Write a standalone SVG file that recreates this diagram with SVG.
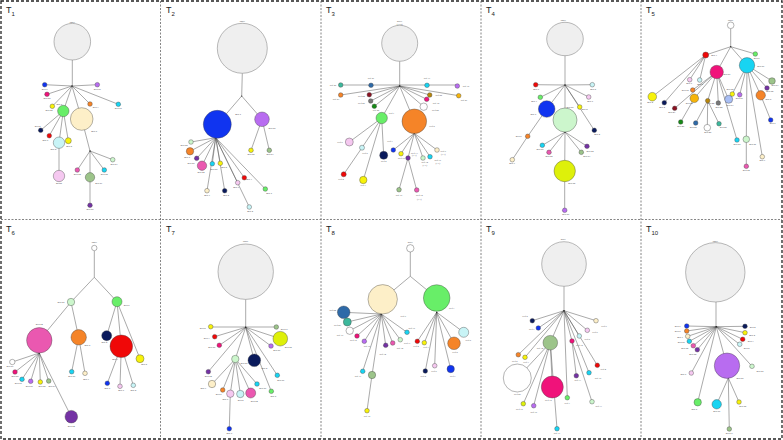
<svg xmlns="http://www.w3.org/2000/svg" width="783" height="440" viewBox="0 0 783 440">
<style>
.bg{fill:#fff}
.frame{fill:none;stroke:#222;stroke-width:1.3;stroke-dasharray:3 2}
.div{fill:none;stroke:#666;stroke-width:0.8;stroke-dasharray:2 1.5}
.t{font-family:"Liberation Sans",Arial,sans-serif;font-size:9px;fill:#222}
.t tspan{font-size:6px}
.e{fill:none;stroke:#555;stroke-width:0.5}
.j{fill:#222}
.n{stroke:#444;stroke-width:0.4}
.l{font-family:"Liberation Sans",Arial,sans-serif;font-size:2.2px;fill:#444;text-anchor:middle}
.s{font-family:"Liberation Serif","Times New Roman",serif;font-size:2.4px;fill:#444;text-anchor:middle}
.rt{fill:#efefef;stroke:#777;stroke-width:0.5}
.bl{fill:#1034f0}.pu{fill:#b86cf0}.mg{fill:#f0127a}.ye{fill:#f7f20a}.gr{fill:#68ee68}
.pe{fill:#fdefc8}.or{fill:#f58428}.cy{fill:#18d4f2}.lc{fill:#c8f4f6}.pl{fill:#f5c8f0}
.nv{fill:#0a1a5c}.rd{fill:#f00808}.sg{fill:#9cc48a}.pd{fill:#7432a4}.pk{fill:#ea58b0}
.lg{fill:#ccf6cc}.yg{fill:#def00a}.tl{fill:#3cb89c}.sb{fill:#2e6aa8}.dr{fill:#8a1222}
.gy{fill:#777}.dg{fill:#168a16}.br{fill:#b8860b}.go{fill:#f6b40a}.lb{fill:#a8bef4}.wh{fill:#fff}
</style>
<rect class="bg" x="0" y="0" width="783" height="440"/>
<g id="panels">
<rect class="frame" x="1" y="1" width="781" height="438"/>
<path class="div" d="M160.5,1V439 M321,1V439 M481,1V439 M641,1V439 M1,219.5H782"/>
<text class="t" x="6" y="13">T<tspan dy="2.5">1</tspan></text>
<text class="t" x="166" y="13">T<tspan dy="2.5">2</tspan></text>
<text class="t" x="326" y="13">T<tspan dy="2.5">3</tspan></text>
<text class="t" x="486" y="13">T<tspan dy="2.5">4</tspan></text>
<text class="t" x="646" y="13">T<tspan dy="2.5">5</tspan></text>
<text class="t" x="6" y="232">T<tspan dy="2.5">6</tspan></text>
<text class="t" x="166" y="232">T<tspan dy="2.5">7</tspan></text>
<text class="t" x="326" y="232">T<tspan dy="2.5">8</tspan></text>
<text class="t" x="486" y="232">T<tspan dy="2.5">9</tspan></text>
<text class="t" x="646" y="232">T<tspan dy="2.5">10</tspan></text>
</g>
<g id="connectors">
<path class="e" d="M72.3,60V86 M72,86L44.7,84.7 M72,86L97.3,84.7 M72,86L47,94.3 M72,86L52.3,106.3 M72,86L63.3,111 M72,86L81.7,119 M72,86L90,104 M72,86L118.3,104.3 M63.3,111L40.7,130.3 M63.3,111L49.3,135.7 M63.3,111L59,142.7 M63.3,111L68.3,140.7 M59,142.7V176 M81.7,119L90,151 M90,151L112.7,159.7 M90,151L77.3,170 M90,151V205.3 M90,151L104.3,170"/>
<path class="e" d="M242.3,73.3L241.7,96 M241.7,96L217.3,124.3 M241.7,96L262,119.3 M262,119.3L251,150.3 M262,119.3L269.3,150.3 M215.7,137.7L191,142 M215.7,137.7L190,151.3 M215.7,137.7L196.7,158.3 M215.7,137.7L202,165.7 M215.7,137.7L212.3,163.7 M215.7,137.7L220.3,163.3 M215.7,137.7L244.3,177.7 M215.7,137.7L237.7,182.7 M215.7,137.7L265.3,189 M215.7,137.7L249.3,207 M215.7,137.7L207,190.7 M215.7,137.7L224.7,190.7"/>
<path class="e" d="M399.7,61.3V86 M340.7,85H457.3 M399.7,86L340.7,95 M399.7,86L369.3,94.7 M399.7,86L370.7,101 M399.7,86L374.3,106.3 M399.7,86L381.7,118 M399.7,86L429.7,95 M399.7,86L458.7,95.7 M399.7,86L426.7,99.3 M399.7,86L423.7,106.7 M399.7,86L414.3,121.3 M381.7,118L349.3,142 M381.7,118L362,147.7 M381.7,118L383.7,155.3 M381.7,118L363.3,180 M362,147.7L343.7,174.3 M414.3,133.3L393.3,150 M414.3,133.3L401,153.7 M414.3,133.3L408,158 M414.3,133.3L423,158 M414.3,133.3L430,156.7 M414.3,133.3L437,150 M408,158L399,189.7 M408,158L416.7,190"/>
<path class="e" d="M565,55.7V85 M565,85L535.7,84.7 M565,85L592.3,84.7 M565,85L540.3,97.3 M565,85L588.7,97 M565,85L546.7,109 M565,85L579.7,107 M565,85L594.3,130.3 M565,85V120 M546.7,109L527.7,136.3 L512.3,159.7 M565,132L542.3,145.3 M565,132L549,152.3 M565,132L587,146.3 M565,132L581.3,152.3 M565,132L564.7,171 L564.7,210.3"/>
<path class="e" d="M730.7,28.7V46.7 M730.7,46.7L705.7,55 M730.7,46.7L755.3,54 M730.7,46.7L716.7,72 M730.7,46.7L747,65.3 M705.7,55L652.3,96.7 M705.7,55L664.3,102.7 M705.7,55L689.7,79.7 M705.7,55L699.7,80 M716.7,72L692.7,90 M716.7,72L674.7,108.3 M716.7,72L694.3,98.3 M716.7,72L707.7,100.7 M716.7,72L718.3,103 M716.7,72L728.7,99.3 M716.7,72L737,140 M694.3,98.3L680.7,122 M707.7,100.7L695.7,123 M707.7,100.7L707.3,127.7 M707.7,100.7L719,123.7 M747,65.3L732.3,94 M747,65.3L739.7,94.7 M747,65.3L772,81 M747,65.3L767,88 M747,65.3L760.7,95.3 M747,65.3L746.3,139.3 M747,65.3L762.3,156.7 M746.3,139.3V166.3 M760.7,95.3L770.7,120"/>
<path class="e" d="M94.3,250.7V277.3 M94.3,277.3L71,302 M94.3,277.3L117,301.7 M71,302L39.3,340.3 M71,302L78.7,337.3 M39.3,353L12.3,362 M39.3,353L15,372 M39.3,353L22,379.3 M39.3,353L30.7,381.3 M39.3,353L40.3,382 M39.3,353L48.7,381 M39.3,353L71.3,416.7 M78.7,337.3L71.7,371.7 M78.7,337.3L85,373.3 M117,301.7L106.7,335.7 M117,301.7L121.3,346.3 M117,301.7L140,358.7 M121.3,346.3L107.3,383.3 M121.3,346.3L120,386.3 M121.3,346.3L133.3,385.3"/>
<path class="e" d="M245.7,299.3V327.3 M210.7,327H276.3 M245.7,327.3L214.7,336.7 M245.7,327.3L219.3,345.3 M245.7,327.3L280.3,338.7 M245.7,327.3L271,346 M245.7,327.3L254.3,360.3 M245.7,327.3L235.3,359 M245.7,327.3L277.3,375.3 M245.7,327.3L271.3,391.3 M245.7,327.3L208.3,371.7 M235.3,359L212,384 M235.3,359L222.7,390 M235.3,359L230.3,393.7 M235.3,359L240.3,394 M235.3,359L250.7,393 M235.3,359L257,384 M230.3,393.7L229.3,428.7"/>
<path class="e" d="M410.3,252V276.3 M410.3,276.3L382.7,299.3 M410.3,276.3L436.7,298 M381.3,314L343.7,312.3 M381.3,314L347.3,322 M381.3,314L349.7,330.7 M381.3,314L357,336 M381.3,314L364.3,341.3 M381.3,314L385.7,345.3 M381.3,314L392.7,343 M381.3,314L400.3,339.7 M381.3,314L407,332.3 M381.3,314L362.7,371.3 M381.3,314L372,375 L367,410.7 M436.7,312.3L417.3,341.3 M436.7,312.3L424.3,342.7 M436.7,312.3L463.7,332.3 M436.7,312.3L454,343.3 M436.7,312.3L425.3,371 M436.7,312.3L434.7,365.7 M436.7,312.3L450.7,369"/>
<path class="e" d="M564,286.3V310.7 M564,310.7L532.3,320.7 M564,310.7L538.3,328 M564,310.7L596,320.7 M564,310.7L587.3,330.3 M564,310.7L579.3,336 M564,310.7L550.3,342.7 M564,310.7L572,341 M564,310.7L518.3,354.7 M564,310.7L525,357.3 M564,310.7L597.3,365.3 M564,310.7L589,372.7 M564,310.7L567.3,397.7 M550.3,342.7L517.3,378 M550.3,342.7L523.3,403.7 M550.3,342.7L533.7,405.7 M550.3,342.7L552.3,387 M550.3,342.7L557,428.7 M572,341L576.3,375.7 M572,341L592,401.7"/>
<path class="e" d="M716,302V326.7 M716.3,326.7L686.7,326 M716.3,326.7L686.7,331 M716.3,326.7L687.7,336.3 M716.3,326.7L689.3,341.3 M716.3,326.7L693.3,345.7 M716.3,326.7L697.3,349.7 M716.3,326.7L691.3,373 M716.3,326.7L697.7,402.3 M716.3,326.7L745,326.3 M716.3,326.7L745,332.7 M716.3,326.7L742.7,339.3 M716.3,326.7L739.7,344.3 M716.3,326.7L752,366.3 M716.3,326.7L727,365.7 M728.3,378L716.7,404.3 M728.3,378L739,402 M728.3,378L729.3,429"/>
<g class="j"><circle cx="72" cy="86" r="0.7"/><circle cx="90" cy="151" r="0.7"/><circle cx="241.7" cy="96" r="0.6"/><circle cx="215.7" cy="137.7" r="0.7"/><circle cx="399.7" cy="86" r="0.7"/><circle cx="414.3" cy="133.3" r="0.7"/><circle cx="565" cy="85" r="0.7"/><circle cx="565" cy="132" r="0.7"/><circle cx="730.7" cy="46.7" r="0.6"/><circle cx="39.3" cy="353" r="0.7"/><circle cx="245.7" cy="327.3" r="0.7"/><circle cx="381.3" cy="314" r="0.7"/><circle cx="436.7" cy="312.3" r="0.7"/><circle cx="564" cy="310.7" r="0.7"/><circle cx="716.3" cy="326.7" r="0.7"/><circle cx="728.3" cy="378" r="0.6"/></g>
</g>
<g id="t1">
<g id="t1-naive"><circle class="rt" cx="72.3" cy="41.7" r="18.3"/><text class="l" x="72.3" y="22.5">naive</text></g>
<g id="t1-s7"><circle class="n bl" cx="44.7" cy="84.7" r="2.3"/><text class="l" x="44.7" y="89.5">Seq 7</text></g>
<g id="t1-s16"><circle class="n pu" cx="97.3" cy="84.7" r="2.3"/><text class="l" x="97.3" y="89.5">Seq 16</text></g>
<g id="t1-s18"><circle class="n mg" cx="47" cy="94.3" r="2.3"/><text class="l" x="47" y="99">Seq 18</text></g>
<g id="t1-s12"><circle class="n ye" cx="52.3" cy="106.3" r="2.3"/><text class="l" x="49" y="111">Seq 12</text></g>
<g id="t1-s1"><circle class="n gr" cx="63.3" cy="111" r="5.7"/><text class="l" x="59.3" y="104.5">Seq 1</text></g>
<g id="t1-s8"><circle class="n pe" cx="81.7" cy="119" r="11.3"/><text class="l" x="94" y="132">Seq 8</text></g>
<g id="t1-s4"><circle class="n or" cx="90" cy="104" r="2.3"/><text class="l" x="95.7" y="107.7">Seq 4</text></g>
<g id="t1-s17"><circle class="n cy" cx="118.3" cy="104.3" r="2.3"/><text class="l" x="118.3" y="109">Seq 17</text></g>
<g id="t1-s2"><circle class="n nv" cx="40.7" cy="130.3" r="2.3"/><text class="l" x="37.7" y="126.5">Seq 2</text></g>
<g id="t1-s6"><circle class="n rd" cx="49.3" cy="135.7" r="2.3"/><text class="l" x="45.3" y="141">Seq 6</text></g>
<g id="t1-s3"><circle class="n lc" cx="59" cy="142.7" r="5.7"/><text class="l" x="53.3" y="150">Seq 3</text></g>
<g id="t1-s5"><circle class="n ye" cx="68.3" cy="140.7" r="3"/><text class="l" x="69" y="147">Seq 5</text></g>
<g id="t1-s11"><circle class="n pl" cx="59" cy="176" r="5.7"/><text class="l" x="59" y="184">Seq11</text></g>
<g id="t1-s14"><circle class="n lg" cx="112.7" cy="159.7" r="2.3"/><text class="l" x="114" y="164.5">Seq 14</text></g>
<g id="t1-s13"><circle class="n pk" cx="77.3" cy="170" r="2.3"/><text class="l" x="77.3" y="174.8">Seq 13</text></g>
<g id="t1-s19"><circle class="n sg" cx="90" cy="177.3" r="4.7"/><text class="l" x="98.7" y="183.5">Seq 19</text></g>
<g id="t1-s15"><circle class="n cy" cx="104.3" cy="170" r="2.3"/><text class="l" x="104.3" y="174.8">Seq 15</text></g>
<g id="t1-s10"><circle class="n pd" cx="90" cy="205.3" r="2.3"/><text class="l" x="90" y="210">Seq 10</text></g>
</g>
<g id="t2">
<g id="t2-naive"><circle class="rt" cx="242.3" cy="48.3" r="25"/><text class="l" x="242.3" y="21.5">naive</text></g>
<g id="t2-s7"><circle class="n bl" cx="217.3" cy="124.3" r="14"/><text class="l" x="238" y="115">Seq 7</text></g>
<g id="t2-s16"><circle class="n pu" cx="262" cy="119.3" r="7.3"/><text class="l" x="272" y="129">Seq 16</text></g>
<g id="t2-s15"><circle class="n ye" cx="251" cy="150.3" r="2.3"/><text class="l" x="251" y="155">Seq 15</text></g>
<g id="t2-s14"><circle class="n sg" cx="269.3" cy="150.3" r="2.3"/><text class="l" x="270" y="155">Seq 14</text></g>
<g id="t2-s13"><circle class="n lg" cx="191" cy="142" r="2.3"/><text class="l" x="184" y="146">Seq 13</text></g>
<g id="t2-s8"><circle class="n or" cx="190" cy="151.3" r="3.7"/><text class="l" x="187" y="157.7">Seq 8</text></g>
<g id="t2-s18"><circle class="n pd" cx="196.7" cy="158.3" r="2.3"/><text class="l" x="191" y="163.5">Seq 18</text></g>
<g id="t2-s12"><circle class="n pk" cx="202" cy="165.7" r="4.7"/><text class="l" x="201" y="173.3">Seq 12</text></g>
<g id="t2-s10"><circle class="n cy" cx="212.3" cy="163.7" r="2.3"/><text class="l" x="214" y="170">Seq 10</text></g>
<g id="t2-s5"><circle class="n ye" cx="220.3" cy="163.3" r="2.3"/><text class="l" x="224" y="167.7">Seq 5</text></g>
<g id="t2-s4"><circle class="n rd" cx="244.3" cy="177.7" r="2.3"/><text class="l" x="249" y="180">Seq 4</text></g>
<g id="t2-s6"><circle class="n pl" cx="237.7" cy="182.7" r="2.3"/><text class="l" x="236" y="188">Seq 6</text></g>
<g id="t2-s1"><circle class="n gr" cx="265.3" cy="189" r="2.3"/><text class="l" x="269" y="194">Seq 1</text></g>
<g id="t2-s3"><circle class="n lc" cx="249.3" cy="207" r="2.3"/><text class="l" x="250" y="212">Seq 3</text></g>
<g id="t2-s9"><circle class="n pe" cx="207" cy="190.7" r="2.3"/><text class="l" x="207" y="196">Seq 9</text></g>
<g id="t2-s2"><circle class="n nv" cx="224.7" cy="190.7" r="2.3"/><text class="l" x="226" y="196">Seq 2</text></g>
</g>
<g id="t3">
<g id="t3-naive"><circle class="rt" cx="399.7" cy="43.3" r="18"/><text class="s" x="399.7" y="21.5">naive</text><text class="s" x="399.7" y="24.6">(13.5)</text></g>
<g id="t3-s20"><circle class="n tl" cx="340.7" cy="85" r="2.3"/><text class="s" x="333" y="86">Seq 20</text></g>
<g id="t3-s21"><circle class="n sb" cx="371" cy="85.3" r="2.3"/><text class="s" x="371" y="78.5">Seq 21</text></g>
<g id="t3-s17"><circle class="n cy" cx="427" cy="85.3" r="2.3"/><text class="s" x="427" y="78.5">Seq 17</text></g>
<g id="t3-s16"><circle class="n pu" cx="457.3" cy="86" r="2.3"/><text class="s" x="466" y="86.5">Seq 16</text></g>
<g id="t3-s23"><circle class="n or" cx="340.7" cy="95" r="2.3"/><text class="s" x="336" y="100.3">Seq 23</text></g>
<g id="t3-s24"><circle class="n dr" cx="369.3" cy="94.7" r="2.3"/><text class="s" x="361.3" y="97">Seq 24</text></g>
<g id="t3-s25"><circle class="n gy" cx="370.7" cy="101" r="2.3"/><text class="s" x="361.3" y="103.6">Seq 25</text></g>
<g id="t3-s26"><circle class="n dg" cx="374.3" cy="106.3" r="2.3"/><text class="s" x="376" y="111">Seq 26</text></g>
<g id="t3-s1"><circle class="n gr" cx="381.7" cy="118" r="5.7"/><text class="s" x="391.5" y="114.3">Seq 1</text></g>
<g id="t3-s22"><circle class="n br" cx="429.7" cy="95" r="2.3"/><text class="s" x="438.7" y="96.3">Seq 22</text></g>
<g id="t3-s27"><circle class="n go" cx="458.7" cy="95.7" r="2.3"/><text class="s" x="464" y="100.7">Seq 27</text></g>
<g id="t3-s18"><circle class="n mg" cx="426.7" cy="99.3" r="2.3"/><text class="s" x="436" y="103.5">Seq 18</text></g>
<g id="t3-s28"><circle class="n wh" cx="423.7" cy="106.7" r="3.7"/><text class="s" x="435.3" y="110.5">Seq 28</text></g>
<g id="t3-s8"><circle class="n or" cx="414.3" cy="121.3" r="12.3"/><text class="s" x="432" y="126.5">Seq 8</text></g>
<g id="t3-s6"><circle class="n pl" cx="349.3" cy="142" r="4"/><text class="s" x="340" y="143">Seq 6</text></g>
<g id="t3-s5"><circle class="n lc" cx="362" cy="147.7" r="2.5"/><text class="s" x="365" y="153.8">Seq 5</text></g>
<g id="t3-s2"><circle class="n nv" cx="383.7" cy="155.3" r="4"/><text class="s" x="383.7" y="162">Seq 2</text></g>
<g id="t3-s3"><circle class="n ye" cx="363.3" cy="180" r="3.7"/><text class="s" x="363.3" y="186">Seq 3</text></g>
<g id="t3-s4"><circle class="n rd" cx="343.7" cy="174.3" r="2.5"/><text class="s" x="341" y="180.3">Seq 4</text></g>
<g id="t3-s7"><circle class="n bl" cx="393.3" cy="150" r="2.3"/><text class="s" x="390" y="142">Seq 7</text></g>
<g id="t3-s15"><circle class="n ye" cx="401" cy="153.7" r="2.3"/><text class="s" x="401.3" y="158.7">Seq 15</text></g>
<g id="t3-s13"><circle class="n pd" cx="408" cy="158" r="2.3"/><text class="s" x="414.3" y="153.5">Seq 13</text><text class="s" x="414.3" y="156">(1.1)</text></g>
<g id="t3-s14"><circle class="n lg" cx="423" cy="158" r="2.3"/><text class="s" x="424.7" y="163">Seq 14</text><text class="s" x="424.7" y="166">(1.1)</text></g>
<g id="t3-s10"><circle class="n cy" cx="430" cy="156.7" r="2.3"/><text class="s" x="437.7" y="161">Seq 10</text><text class="s" x="437.7" y="164">(1.1)</text></g>
<g id="t3-s9"><circle class="n pe" cx="437" cy="150" r="2.3"/><text class="s" x="443.3" y="152">Seq 9</text><text class="s" x="443.3" y="155">(1.1)</text></g>
<g id="t3-s19"><circle class="n sg" cx="399" cy="189.7" r="2.3"/><text class="s" x="399" y="195.5">Seq 19</text></g>
<g id="t3-s12"><circle class="n pk" cx="416.7" cy="190" r="2.3"/><text class="s" x="419.3" y="195.5">Seq 12</text><text class="s" x="419.3" y="200">(1.1)</text></g>
</g>
<g id="t4">
<g id="t4-naive"><ellipse class="rt" cx="565" cy="39" rx="18.3" ry="16.7"/><text class="l" x="563.3" y="20.7">naive</text></g>
<g id="t4-s6a"><circle class="n rd" cx="535.7" cy="84.7" r="2.3"/><text class="l" x="536" y="89.5">Seq 6</text></g>
<g id="t4-s5a"><circle class="n lc" cx="592.3" cy="84.7" r="2.3"/><text class="l" x="593" y="89.5">Seq 5</text></g>
<g id="t4-s4"><circle class="n gr" cx="540.3" cy="97.3" r="2.3"/><text class="l" x="534" y="101.5">Seq 4</text></g>
<g id="t4-s6"><circle class="n pl" cx="588.7" cy="97" r="2.3"/><text class="l" x="590" y="101.5">Seq 6</text></g>
<g id="t4-s7"><circle class="n bl" cx="546.7" cy="109" r="8.3"/><text class="l" x="533.3" y="114.5">Seq 7</text></g>
<g id="t4-s3"><circle class="n ye" cx="579.7" cy="107" r="2.3"/><text class="l" x="584.5" y="110">Seq 3</text></g>
<g id="t4-s2"><circle class="n nv" cx="594.3" cy="130.3" r="2.3"/><text class="l" x="597" y="135">Seq 2</text></g>
<g id="t4-s11"><circle class="n lg" cx="565" cy="120" r="12"/><text class="l" x="570" y="108">Seq 11</text></g>
<g id="t4-s8"><circle class="n or" cx="527.7" cy="136.3" r="2.3"/><text class="l" x="518.7" y="137">Seq 8</text></g>
<g id="t4-s9"><circle class="n pe" cx="512.3" cy="159.7" r="2.3"/><text class="l" x="512" y="164.3">Seq 9</text></g>
<g id="t4-s10"><circle class="n cy" cx="542.3" cy="145.3" r="2.3"/><text class="l" x="540" y="150">Seq 10</text></g>
<g id="t4-s12"><circle class="n pk" cx="549" cy="152.3" r="2.3"/><text class="l" x="549" y="157">Seq 12</text></g>
<g id="t4-s13"><circle class="n pd" cx="587" cy="146.3" r="2.3"/><text class="l" x="590" y="152">Seq 13</text></g>
<g id="t4-s14"><circle class="n sg" cx="581.3" cy="152.3" r="2.3"/><text class="l" x="586.7" y="157">Seq 14</text></g>
<g id="t4-s15"><circle class="n yg" cx="564.7" cy="171" r="10.7"/><text class="l" x="571.7" y="183.5">Seq 15</text></g>
<g id="t4-s16"><circle class="n pu" cx="564.7" cy="210.3" r="2.3"/><text class="l" x="565.7" y="214.5">Seq 16</text></g>
</g>
<g id="t5">
<g id="t5-naive"><circle class="n wh" cx="730.7" cy="25.3" r="3.3"/><text class="l" x="730.7" y="20.7">naive</text></g>
<g id="t5-s4"><circle class="n rd" cx="705.7" cy="55" r="3"/><text class="l" x="714" y="55.5">Seq 4</text></g>
<g id="t5-s1"><circle class="n gr" cx="755.3" cy="54" r="2.3"/><text class="l" x="756.7" y="59">Seq 1</text></g>
<g id="t5-s19"><circle class="n mg" cx="716.7" cy="72" r="6.7"/><text class="l" x="727" y="75">Seq 19</text></g>
<g id="t5-s10"><circle class="n cy" cx="747" cy="65.3" r="7.7"/><text class="l" x="760.7" y="67">Seq 10</text></g>
<g id="t5-s3"><circle class="n ye" cx="652.3" cy="96.7" r="4.3"/><text class="l" x="650" y="103">Seq 3</text></g>
<g id="t5-s2"><circle class="n nv" cx="664.3" cy="102.7" r="2.3"/><text class="l" x="662" y="108">Seq 2</text></g>
<g id="t5-s6"><circle class="n pl" cx="689.7" cy="79.7" r="2.3"/><text class="l" x="689" y="84.3">Seq 6</text></g>
<g id="t5-s5"><circle class="n lc" cx="699.7" cy="80" r="2.3"/><text class="l" x="700" y="84.5">Seq 5</text></g>
<g id="t5-s18"><circle class="n or" cx="692.7" cy="90" r="2.3"/><text class="l" x="685.3" y="91">Seq 18</text></g>
<g id="t5-s24"><circle class="n dr" cx="674.7" cy="108.3" r="2.3"/><text class="l" x="671.7" y="113.3">Seq 24</text></g>
<g id="t5-s22"><circle class="n go" cx="694.3" cy="98.3" r="4.3"/><text class="l" x="689.3" y="104">Seq 22</text></g>
<g id="t5-s23"><circle class="n br" cx="707.7" cy="100.7" r="2.3"/><text class="l" x="710.7" y="103.5">Seq 23</text></g>
<g id="t5-s25"><circle class="n gy" cx="718.3" cy="103" r="2.3"/><text class="l" x="719" y="107.5">Seq 25</text></g>
<g id="t5-s14a"><circle class="n lb" cx="728.7" cy="99.3" r="4"/><text class="l" x="730" y="105.5">Seq 14</text></g>
<g id="t5-s26"><circle class="n dg" cx="680.7" cy="122" r="2.3"/><text class="l" x="680.7" y="126.5">Seq 26</text></g>
<g id="t5-s21"><circle class="n sb" cx="695.7" cy="123" r="2.3"/><text class="l" x="693.3" y="127.5">Seq 21</text></g>
<g id="t5-s28"><circle class="n wh" cx="707.3" cy="127.7" r="3.3"/><text class="l" x="707.7" y="133">Seq 28</text></g>
<g id="t5-s20"><circle class="n tl" cx="719" cy="123.7" r="2.3"/><text class="l" x="723.3" y="127.5">Seq 20</text></g>
<g id="t5-s17"><circle class="n cy" cx="737" cy="140" r="2.3"/><text class="l" x="737" y="144.5">Seq 17</text></g>
<g id="t5-s12"><circle class="n ye" cx="732.3" cy="94" r="2.3"/><text class="l" x="730" y="90.3">Seq 12</text></g>
<g id="t5-s16"><circle class="n pu" cx="739.7" cy="94.7" r="2.3"/><text class="l" x="739.3" y="99">Seq 16</text></g>
<g id="t5-s14"><circle class="n sg" cx="772" cy="81" r="3.3"/><text class="l" x="775" y="86.3">Seq 14</text></g>
<g id="t5-s13"><circle class="n pd" cx="767" cy="88" r="2.3"/><text class="l" x="769.7" y="92.3">Seq 13</text></g>
<g id="t5-s8"><circle class="n or" cx="760.7" cy="95.3" r="4.7"/><text class="l" x="768.3" y="99.5">Seq 8</text></g>
<g id="t5-s11"><circle class="n lg" cx="746.3" cy="139.3" r="3.3"/><text class="l" x="752.7" y="145">Seq 11</text></g>
<g id="t5-s9"><circle class="n pe" cx="762.3" cy="156.7" r="2.3"/><text class="l" x="762.3" y="161">Seq 9</text></g>
<g id="t5-s15"><circle class="n pk" cx="746.3" cy="166.3" r="2.3"/><text class="l" x="746.3" y="171">Seq 15</text></g>
<g id="t5-s7"><circle class="n bl" cx="770.7" cy="120" r="2.3"/><text class="l" x="772.7" y="124.3">Seq 7</text></g>
</g>
<g id="t6">
<g id="t6-naive"><circle class="n wh" cx="94.3" cy="248" r="2.7"/><text class="l" x="94.3" y="243.3">naive</text></g>
<g id="t6-s11"><circle class="n lg" cx="71" cy="302" r="3.7"/><text class="l" x="61" y="303">Seq 11</text></g>
<g id="t6-s1"><circle class="n gr" cx="117" cy="301.7" r="5"/><text class="l" x="126.7" y="305.5">Seq 1</text></g>
<g id="t6-s12"><circle class="n pk" cx="39.3" cy="340.3" r="12.7"/><text class="l" x="39.3" y="325.3">Seq 12</text></g>
<g id="t6-s8"><circle class="n or" cx="78.7" cy="337.3" r="7.7"/><text class="l" x="87.3" y="345.5">Seq 8</text></g>
<g id="t6-s19"><circle class="n wh" cx="12.3" cy="362" r="2.7"/><text class="l" x="10" y="367">Seq 19</text></g>
<g id="t6-s18"><circle class="n mg" cx="15" cy="372" r="2.3"/><text class="l" x="15" y="377">Seq 18</text></g>
<g id="t6-s17"><circle class="n cy" cx="22" cy="379.3" r="2.3"/><text class="l" x="18.3" y="383.7">Seq 17</text></g>
<g id="t6-s16"><circle class="n pu" cx="30.7" cy="381.3" r="2.3"/><text class="l" x="29.3" y="386.5">Seq 16</text></g>
<g id="t6-s15"><circle class="n ye" cx="40.3" cy="382" r="2.3"/><text class="l" x="42" y="386.5">Seq 15</text></g>
<g id="t6-s14"><circle class="n sg" cx="48.7" cy="381" r="2.3"/><text class="l" x="52" y="386.5">Seq 14</text></g>
<g id="t6-s13"><circle class="n pd" cx="71.3" cy="416.7" r="6.3"/><text class="l" x="71.3" y="427.3">Seq 13</text></g>
<g id="t6-s10"><circle class="n cy" cx="71.7" cy="371.7" r="2.3"/><text class="l" x="71.7" y="377">Seq 10</text></g>
<g id="t6-s9"><circle class="n pe" cx="85" cy="373.3" r="2.3"/><text class="l" x="86" y="380">Seq 9</text></g>
<g id="t6-s3"><circle class="n nv" cx="106.7" cy="335.7" r="5"/><text class="l" x="104.3" y="343.3">Seq 3</text></g>
<g id="t6-s4"><circle class="n rd" cx="121.3" cy="346.3" r="11.3"/><text class="l" x="115" y="360">Seq 4</text></g>
<g id="t6-s5"><circle class="n ye" cx="140" cy="358.7" r="4"/><text class="l" x="144" y="365">Seq 5</text></g>
<g id="t6-s7"><circle class="n bl" cx="107.3" cy="383.3" r="2.3"/><text class="l" x="107.3" y="388.5">Seq 7</text></g>
<g id="t6-s6"><circle class="n pl" cx="120" cy="386.3" r="2.3"/><text class="l" x="121" y="391.3">Seq 6</text></g>
<g id="t6-s2"><circle class="n lc" cx="133.3" cy="385.3" r="2.3"/><text class="l" x="133.3" y="390.5">Seq 2</text></g>
</g>
<g id="t7">
<g id="t7-naive"><circle class="rt" cx="245.7" cy="271.7" r="27.7"/><text class="l" x="245.7" y="241.5">naive</text></g>
<g id="t7-s3"><circle class="n ye" cx="210.7" cy="326.7" r="2.3"/><text class="l" x="202.7" y="328.7">Seq 3</text></g>
<g id="t7-s14"><circle class="n sg" cx="276.3" cy="327" r="2.3"/><text class="l" x="284.3" y="329.5">Seq 14</text></g>
<g id="t7-s4"><circle class="n rd" cx="214.7" cy="336.7" r="2.3"/><text class="l" x="206.7" y="339">Seq 4</text></g>
<g id="t7-s18"><circle class="n mg" cx="219.3" cy="345.3" r="2.3"/><text class="l" x="211.7" y="348.3">Seq 18</text></g>
<g id="t7-s15"><circle class="n yg" cx="280.3" cy="338.7" r="7.3"/><text class="l" x="288.3" y="348">Seq 15</text></g>
<g id="t7-s16"><circle class="n pu" cx="271" cy="346" r="2.3"/><text class="l" x="276.7" y="351">Seq 16</text></g>
<g id="t7-s2"><circle class="n nv" cx="254.3" cy="360.3" r="6.3"/><text class="l" x="264.3" y="368.5">Seq 2</text></g>
<g id="t7-s11"><circle class="n lg" cx="235.3" cy="359" r="3.7"/><text class="l" x="244" y="363.5">Seq 11</text></g>
<g id="t7-s17"><circle class="n cy" cx="277.3" cy="375.3" r="2.3"/><text class="l" x="280.7" y="381.3">Seq 17</text></g>
<g id="t7-s1"><circle class="n gr" cx="271.3" cy="391.3" r="2.3"/><text class="l" x="273.3" y="397">Seq 1</text></g>
<g id="t7-s13"><circle class="n pd" cx="208.3" cy="371.7" r="2.3"/><text class="l" x="208.3" y="376.5">Seq 13</text></g>
<g id="t7-s9"><circle class="n pe" cx="212" cy="384" r="3.7"/><text class="l" x="203.3" y="389.3">Seq 9</text></g>
<g id="t7-s8"><circle class="n or" cx="222.7" cy="390" r="2.3"/><text class="l" x="218.7" y="395.3">Seq 8</text></g>
<g id="t7-s6"><circle class="n pl" cx="230.3" cy="393.7" r="3.7"/><text class="l" x="225.3" y="400">Seq 6</text></g>
<g id="t7-s5"><circle class="n lc" cx="240.3" cy="394" r="3.7"/><text class="l" x="240.7" y="401">Seq 5</text></g>
<g id="t7-s12"><circle class="n pk" cx="250.7" cy="393" r="5"/><text class="l" x="254.3" y="401.5">Seq 12</text></g>
<g id="t7-s10"><circle class="n cy" cx="257" cy="384" r="2.3"/><text class="l" x="262.7" y="389.3">Seq 10</text></g>
<g id="t7-s7"><circle class="n bl" cx="229.3" cy="428.7" r="2.3"/><text class="l" x="229.3" y="434">Seq 7</text></g>
</g>
<g id="t8">
<g id="t8-naive"><circle class="n wh" cx="410.3" cy="248.3" r="3.7"/><text class="s" x="410.3" y="243">naive</text></g>
<g id="t8-s9"><circle class="n pe" cx="382.7" cy="299.3" r="14.7"/><text class="s" x="403.3" y="316.5">Seq 9</text></g>
<g id="t8-s1"><circle class="n gr" cx="436.7" cy="298" r="13.3"/><text class="s" x="451.7" y="309">Seq 1</text></g>
<g id="t8-s24"><circle class="n sb" cx="343.7" cy="312.3" r="6.3"/><text class="s" x="332.7" y="311.3">Seq 24</text></g>
<g id="t8-s20"><circle class="n tl" cx="347.3" cy="322" r="4"/><text class="s" x="337.3" y="326.3">Seq 20</text></g>
<g id="t8-s19"><circle class="n wh" cx="349.7" cy="330.7" r="3.7"/><text class="s" x="340" y="335.5">Seq 19</text></g>
<g id="t8-s18"><circle class="n mg" cx="357" cy="336" r="2.3"/><text class="s" x="353.3" y="341">Seq 18</text></g>
<g id="t8-s16"><circle class="n pu" cx="364.3" cy="341.3" r="2.3"/><text class="s" x="367" y="346.5">Seq 16</text></g>
<g id="t8-s14"><circle class="n pd" cx="385.7" cy="345.3" r="2.3"/><text class="s" x="382.7" y="355">Seq 14</text></g>
<g id="t8-s12"><circle class="n pk" cx="392.7" cy="343" r="2.3"/><text class="s" x="400" y="348.5">Seq 12</text></g>
<g id="t8-s11"><circle class="n lg" cx="400.3" cy="339.7" r="2.3"/><text class="s" x="407.3" y="344.3">Seq 11</text></g>
<g id="t8-s10"><circle class="n cy" cx="407" cy="332.3" r="2.3"/><text class="s" x="411.7" y="329">Seq 10</text></g>
<g id="t8-s17"><circle class="n cy" cx="362.7" cy="371.3" r="2.3"/><text class="s" x="358" y="377">Seq 17</text></g>
<g id="t8-s13"><circle class="n sg" cx="372" cy="375" r="3.7"/></g>
<g id="t8-s15"><circle class="n ye" cx="367" cy="410.7" r="2.3"/><text class="s" x="367" y="416.5">Seq 15</text></g>
<g id="t8-s4"><circle class="n rd" cx="417.3" cy="341.3" r="2.3"/><text class="s" x="416" y="347">Seq 4</text></g>
<g id="t8-s3"><circle class="n ye" cx="424.3" cy="342.7" r="2.3"/><text class="s" x="426" y="348.3">Seq 3</text></g>
<g id="t8-s5"><circle class="n lc" cx="463.7" cy="332.3" r="5"/><text class="s" x="468.3" y="341">Seq 5</text></g>
<g id="t8-s8"><circle class="n or" cx="454" cy="343.3" r="6.3"/><text class="s" x="455" y="353.3">Seq 8</text></g>
<g id="t8-s2"><circle class="n nv" cx="425.3" cy="371" r="2.3"/><text class="s" x="423.3" y="377.3">Seq 2</text></g>
<g id="t8-s6"><circle class="n pl" cx="434.7" cy="365.7" r="2.3"/><text class="s" x="434" y="372.3">Seq 6</text></g>
<g id="t8-s7"><circle class="n bl" cx="450.7" cy="369" r="3.7"/><text class="s" x="452.7" y="377.3">Seq 7</text></g>
</g>
<g id="t9">
<g id="t9-naive"><circle class="rt" cx="564" cy="264" r="22.3"/><text class="s" x="563.3" y="240">naive</text></g>
<g id="t9-s2"><circle class="n nv" cx="532.3" cy="320.7" r="2.3"/><text class="s" x="525" y="317">Seq 2</text></g>
<g id="t9-s7"><circle class="n bl" cx="538.3" cy="328" r="2.3"/><text class="s" x="531.7" y="330.3">Seq 7</text></g>
<g id="t9-s9"><circle class="n pe" cx="596" cy="320.7" r="2.3"/><text class="s" x="604" y="327.3">Seq 9</text></g>
<g id="t9-s6"><circle class="n pl" cx="587.3" cy="330.3" r="2.3"/><text class="s" x="595" y="333.3">Seq 6</text></g>
<g id="t9-s5"><circle class="n lc" cx="579.3" cy="336" r="2.3"/><text class="s" x="587.3" y="339.7">Seq 5</text></g>
<g id="t9-s14"><circle class="n sg" cx="550.3" cy="342.7" r="7.3"/><text class="s" x="540" y="349">Seq 14</text></g>
<g id="t9-s12"><circle class="n mg" cx="572" cy="341" r="2.3"/><text class="s" x="579.3" y="346.3">Seq 12</text></g>
<g id="t9-s8"><circle class="n or" cx="518.3" cy="354.7" r="2.3"/><text class="s" x="514.7" y="362.3">Seq 8</text></g>
<g id="t9-s3"><circle class="n ye" cx="525" cy="357.3" r="2.3"/><text class="s" x="526" y="363">Seq 3</text></g>
<g id="t9-s4"><circle class="n rd" cx="597.3" cy="365.3" r="2.3"/><text class="s" x="603.3" y="370.3">Seq 4</text></g>
<g id="t9-s10"><circle class="n cy" cx="589" cy="372.7" r="2.3"/><text class="s" x="598" y="379">Seq 10</text></g>
<g id="t9-s1"><circle class="n gr" cx="567.3" cy="397.7" r="2.3"/><text class="s" x="567.3" y="404.3">Seq 1</text></g>
<g id="t9-s20"><circle class="n wh" cx="517.3" cy="378" r="14"/><text class="s" x="517.3" y="395">Seq 20</text></g>
<g id="t9-s15"><circle class="n yg" cx="523.3" cy="403.7" r="2.3"/><text class="s" x="519.3" y="410.3">Seq 15</text></g>
<g id="t9-s16"><circle class="n pu" cx="533.7" cy="405.7" r="2.3"/><text class="s" x="533.7" y="412.5">Seq 16</text></g>
<g id="t9-s18"><circle class="n mg" cx="552.3" cy="387" r="11"/><text class="s" x="548.3" y="401.3">Seq 18</text></g>
<g id="t9-s17"><circle class="n cy" cx="557" cy="428.7" r="2.3"/><text class="s" x="557" y="434.3">Seq 17</text></g>
<g id="t9-s13"><circle class="n pd" cx="576.3" cy="375.7" r="2.3"/><text class="s" x="577.7" y="381.3">Seq 13</text></g>
<g id="t9-s11"><circle class="n lg" cx="592" cy="401.7" r="2.3"/><text class="s" x="598.7" y="406.5">Seq 11</text></g>
</g>
<g id="t10">
<g id="t10-naive"><circle class="rt" cx="715.3" cy="272.3" r="29.7"/><text class="l" x="715.3" y="241.5">naive</text></g>
<g id="t10-s7"><circle class="n bl" cx="686.7" cy="326" r="2.3"/><text class="l" x="677.7" y="327.3">Seq 7</text></g>
<g id="t10-s8"><circle class="n or" cx="686.7" cy="331" r="2.3"/><text class="l" x="677.7" y="332.3">Seq 8</text></g>
<g id="t10-s9"><circle class="n pe" cx="687.7" cy="336.3" r="2.3"/><text class="l" x="680" y="337.6">Seq 9</text></g>
<g id="t10-s10"><circle class="n cy" cx="689.3" cy="341.3" r="2.3"/><text class="l" x="681.3" y="343.3">Seq 10</text></g>
<g id="t10-s12"><circle class="n pk" cx="693.3" cy="345.7" r="2.3"/><text class="l" x="684.7" y="349">Seq 12</text></g>
<g id="t10-s13"><circle class="n pd" cx="697.3" cy="349.7" r="2.3"/><text class="l" x="692.7" y="355">Seq 13</text></g>
<g id="t10-s6"><circle class="n pl" cx="691.3" cy="373" r="2.3"/><text class="l" x="683.3" y="375.3">Seq 6</text></g>
<g id="t10-s1"><circle class="n gr" cx="697.7" cy="402.3" r="3.7"/><text class="l" x="694.3" y="410.3">Seq 1</text></g>
<g id="t10-s17"><circle class="n cy" cx="716.7" cy="404.3" r="4.7"/><text class="l" x="716.7" y="412">Seq 17</text></g>
<g id="t10-s2"><circle class="n nv" cx="745" cy="326.3" r="2.3"/><text class="l" x="752.7" y="327.6">Seq 2</text></g>
<g id="t10-s3"><circle class="n ye" cx="745" cy="332.7" r="2.3"/><text class="l" x="752" y="335.6">Seq 3</text></g>
<g id="t10-s4"><circle class="n rd" cx="742.7" cy="339.3" r="2.3"/><text class="l" x="750.7" y="342.3">Seq 4</text></g>
<g id="t10-s5"><circle class="n lc" cx="739.7" cy="344.3" r="2.3"/><text class="l" x="746.7" y="349">Seq 5</text></g>
<g id="t10-s11"><circle class="n lg" cx="752" cy="366.3" r="2.3"/><text class="l" x="760" y="371.6">Seq 11</text></g>
<g id="t10-s16"><circle class="n pu" cx="727" cy="365.7" r="12.7"/><text class="l" x="740" y="379.3">Seq 16</text></g>
<g id="t10-s15"><circle class="n ye" cx="739" cy="402" r="2.3"/><text class="l" x="742.7" y="407">Seq 15</text></g>
<g id="t10-s14"><circle class="n sg" cx="729.3" cy="429" r="2.3"/><text class="l" x="729.3" y="434">Seq 14</text></g>
</g>
</svg>
